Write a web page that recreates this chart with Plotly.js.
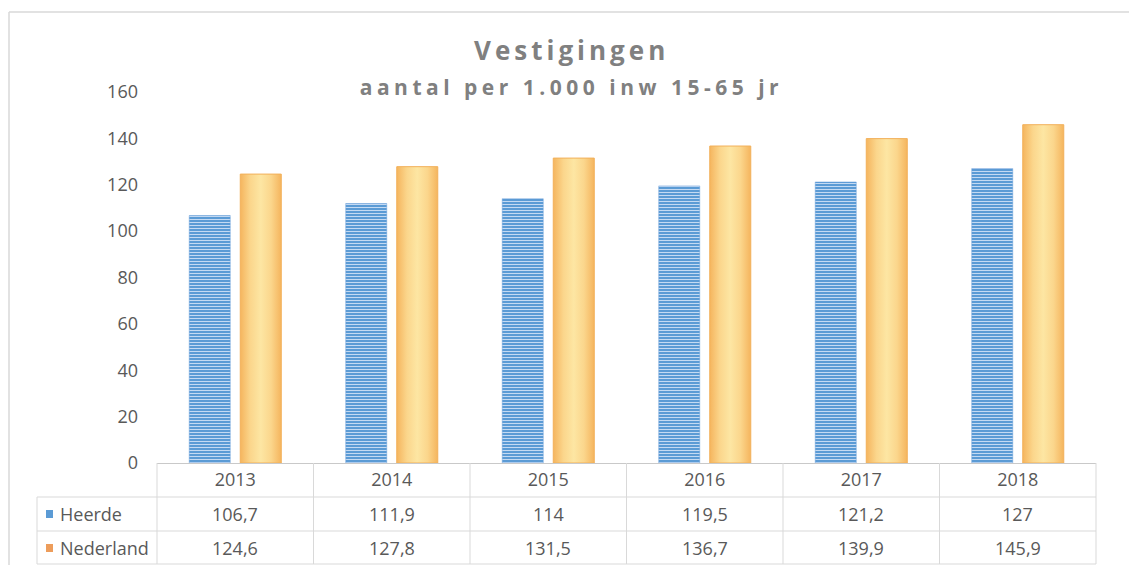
<!DOCTYPE html>
<html><head><meta charset="utf-8">
<script src="https://cdn.plot.ly/plotly-3.0.1.min.js"></script>
<style>html,body{margin:0;padding:0;background:#fff;} #chart{width:1129px;height:565px;}</style>
</head><body><div id="chart"></div>
<script>
// ---- data ----
const years = ['2013', '2014', '2015', '2016', '2017', '2018'];
const heerde = [106.7, 111.9, 114, 119.5, 121.2, 127];
const nederland = [124.6, 127.8, 131.5, 136.7, 139.9, 145.9];
const seriesNames = ['Heerde', 'Nederland'];
const yTickVals = [0, 20, 40, 60, 80, 100, 120, 140, 160];
const titleText = 'Vestigingen';
const subtitleText = 'aantal per 1.000 inw 15-65 jr';

// ---- layout helpers ----
const W = 1129, H = 565, L = 157, R = 33, T = 92, B = 102;
const pw = W - L - R, ph = H - T - B;
const px = x => (x - L) / pw;
const py = y => (H - B - y) / ph;
const fmt = v => String(v).replace('.', ',');
const gridC = '#d9d9d9';
const txt = '#595959';
const font = '"Open Sans", sans-serif';
const blue = '#5b9bd5', orange = '#f9cd7e';

const traces = [
  {type: 'bar', name: seriesNames[0], x: years, y: heerde,
   marker: {color: blue, line: {color: '#6a9fd8', width: 0.5},
            pattern: {shape: '-', size: 3, solidity: 0.35, fgcolor: '#c4daf3', bgcolor: blue, fillmode: 'replace'}}},
  {type: 'bar', name: seriesNames[1], x: years, y: nederland,
   marker: {color: orange, line: {color: '#f2b05a', width: 1}}}
];

const rowY = [py(514), py(548)];
const shapes = [];
const line = (x0, y0, x1, y1, c, w) => shapes.push({type: 'line', xref: 'paper', yref: 'paper', x0, y0, x1, y1, line: {color: c || gridC, width: w || 1}});
// outer chart frame
line(px(9), py(12), px(1129), py(12), '#d9d9d9', 1.5);
line(px(9), py(12), px(9), py(565), '#d9d9d9', 1.5);
// data table grid
line(px(37), py(497), 1, py(497));
line(px(37), py(531), 1, py(531));
line(px(37), py(564), 1, py(564));
line(px(37), py(497), px(37), py(564));
for (let k = 0; k <= years.length; k++) line(k / years.length, 0, k / years.length, py(564));
// legend keys
const keyColors = ['#5b9bd5', '#ed9d5b'];
keyColors.forEach((c, i) => {
  const cy = 514 + i * 34;
  shapes.push({type: 'rect', xref: 'paper', yref: 'paper', x0: px(46), x1: px(53), y0: py(cy - 4), y1: py(cy + 4), line: {width: 0}, fillcolor: c});
});

const annotations = [
  {text: '<b>' + titleText + '</b>', xref: 'paper', yref: 'paper', x: px(571), y: py(50), showarrow: false, xanchor: 'center', yanchor: 'middle', font: {family: font, size: 26, color: '#808080'}},
  {text: '<b>' + subtitleText + '</b>', xref: 'paper', yref: 'paper', x: px(571), y: py(87), showarrow: false, xanchor: 'center', yanchor: 'middle', font: {family: font, size: 21, color: '#808080'}}
];
[heerde, nederland].forEach((arr, r) => {
  annotations.push({text: seriesNames[r], xref: 'paper', yref: 'paper', x: px(58), y: rowY[r], xanchor: 'left', yanchor: 'middle', showarrow: false, font: {family: font, size: 18, color: txt}});
  arr.forEach((v, i) => annotations.push({text: fmt(v), xref: 'x', yref: 'paper', x: i, y: rowY[r], xanchor: 'center', yanchor: 'middle', showarrow: false, font: {family: font, size: 18, color: txt}}));
});

const layout = {
  width: W, height: H,
  margin: {l: L, r: R, t: T, b: B, pad: 0},
  paper_bgcolor: '#fff', plot_bgcolor: '#fff',
  showlegend: false,
  barmode: 'group', bargap: 0.348, bargroupgap: 0.196,
  font: {family: font, size: 18, color: txt},
  xaxis: {type: 'category', range: [-0.5, years.length - 0.5], autorange: false, showline: true, linecolor: '#c9c9c9', linewidth: 1, ticks: '', showgrid: false, zeroline: false,
          tickfont: {family: font, size: 18, color: txt}, fixedrange: true},
  yaxis: {range: [0, 160], autorange: false, tickvals: yTickVals, ticktext: yTickVals.map(String), showgrid: false, zeroline: false, showline: false, ticks: '',
          ticklabelstandoff: 18, tickfont: {family: font, size: 18, color: txt}, fixedrange: true},
  shapes, annotations
};

Plotly.newPlot('chart', traces, layout, {displayModeBar: false, staticPlot: true}).then(gd => {
  // letter spacing for title texts
  gd.querySelectorAll('.annotation-text').forEach(t => {
    if (t.textContent === titleText) t.style.letterSpacing = '4px';
    if (t.textContent === subtitleText) t.style.letterSpacing = '4.5px';
  });
  // horizontal gradient on the Nederland bars
  const svg = gd.querySelector('svg.main-svg');
  const defs = svg.querySelector('defs');
  const ns = 'http://www.w3.org/2000/svg';
  const g = document.createElementNS(ns, 'linearGradient');
  g.setAttribute('id', 'oranjeGrad');
  g.setAttribute('x1', '0'); g.setAttribute('x2', '1'); g.setAttribute('y1', '0'); g.setAttribute('y2', '0');
  [['0', '#f5b55e'], ['0.25', '#fbd68c'], ['0.5', '#fde6a3'], ['0.75', '#fbd68c'], ['1', '#f5b55e']].forEach(([o, c]) => {
    const s = document.createElementNS(ns, 'stop');
    s.setAttribute('offset', o); s.setAttribute('stop-color', c);
    g.appendChild(s);
  });
  defs.appendChild(g);
  const tr = gd.querySelectorAll('.barlayer .trace');
  if (tr[1]) tr[1].querySelectorAll('path').forEach(p => { p.style.fill = 'url(#oranjeGrad)'; });
});
</script>
</body></html>
